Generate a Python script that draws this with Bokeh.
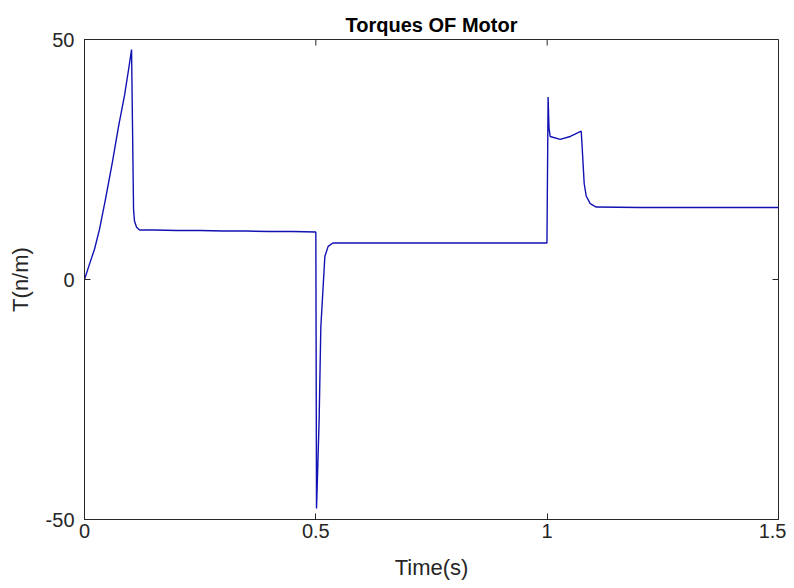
import math
from bokeh.plotting import figure
from bokeh.models import FixedTicker, Range1d
from bokeh.embed import file_html
from bokeh.resources import INLINE

# Data (time in s, torque)
time_s = [0.0, 0.0108, 0.0216, 0.0325, 0.0455, 0.0606, 0.0736, 0.0866, 0.0952, 0.1017,
          0.106, 0.108, 0.1126, 0.119, 0.15, 0.2, 0.25, 0.3, 0.35, 0.4, 0.45, 0.4995,
          0.5, 0.5015, 0.5071, 0.5108, 0.5158, 0.5195, 0.5266, 0.5368, 0.6, 0.7, 0.8, 0.9, 0.9995,
          1.002, 1.004, 1.0065, 1.028, 1.05, 1.0736, 1.0758, 1.08, 1.0844, 1.093, 1.106,
          1.2, 1.3, 1.4, 1.5]
torque = [0.0, 3.2, 6.3, 10.5, 16.8, 24.6, 31.9, 38.4, 43.7, 47.9,
          14.7, 12.2, 10.9, 10.3, 10.3, 10.2, 10.2, 10.1, 10.1, 10.0, 10.0, 9.9,
          9.9, -47.7, -29.4, -9.9, -1.5, 4.8, 6.9, 7.6, 7.6, 7.6, 7.6, 7.6, 7.6,
          38.0, 31.5, 29.8, 29.2, 29.8, 30.9, 27.3, 20.0, 17.4, 15.8, 15.1,
          15.0, 15.0, 15.0, 15.0]

x_ticks = [0, 0.5, 1, 1.5]
y_ticks = [-50, 0, 50]
x_tick_labels = {0: "0", 0.5: "0.5", 1: "1", 1.5: "1.5"}
y_tick_labels = {-50: "-50", 0: "0", 50: "50"}
x_min, x_max = 0, 1.5
y_min, y_max = -50, 50

FONT = "Liberation Sans"
TXT = "#262626"

p = figure(width=786, height=586, x_range=Range1d(x_min, x_max), y_range=Range1d(y_min, y_max),
           output_backend="svg", toolbar_location=None,
           min_border_left=84, min_border_right=8, min_border_top=39, min_border_bottom=67,
           title="Torques OF Motor")

p.title.align = "center"
p.title.text_font = FONT
p.title.text_font_size = "20px"
p.title.text_font_style = "bold"
p.title.text_color = "black"
p.title.offset = 0
p.title.standoff = 8

p.grid.visible = False
p.outline_line_color = TXT
p.outline_line_width = 1
p.background_fill_color = "white"
p.border_fill_color = "white"

for ax, ticks, labels in ((p.xaxis[0], x_ticks, x_tick_labels), (p.yaxis[0], y_ticks, y_tick_labels)):
    ax.ticker = FixedTicker(ticks=ticks)
    ax.major_label_overrides = labels
    ax.major_tick_in = 6
    ax.major_tick_out = 0
    ax.minor_tick_line_color = None
    ax.axis_line_color = TXT
    ax.major_tick_line_color = TXT
    ax.major_label_text_font = FONT
    ax.major_label_text_font_size = "20px"
    ax.major_label_text_color = TXT
    ax.axis_label_text_font = FONT
    ax.axis_label_text_font_size = "22px"
    ax.axis_label_text_font_style = "normal"
    ax.axis_label_text_color = TXT

p.xaxis.axis_label = "Time(s)"
p.yaxis.axis_label = "T(n/m)"
p.xaxis.major_label_standoff = 4
p.xaxis.axis_label_standoff = 14
p.yaxis.major_label_standoff = 10
p.yaxis.axis_label_standoff = 10

# inward ticks on the top and right edges of the box
p.ray(x=x_ticks, y=[y_max] * len(x_ticks), length=6, length_units="screen",
      angle=-math.pi / 2, line_color=TXT, line_width=1)
p.ray(x=[x_max] * len(y_ticks), y=y_ticks, length=6, length_units="screen",
      angle=math.pi, line_color=TXT, line_width=1)

p.line(time_s, torque, line_color="#1212b4", line_width=1.4)

open("out.html", "w").write(file_html(p, INLINE))
